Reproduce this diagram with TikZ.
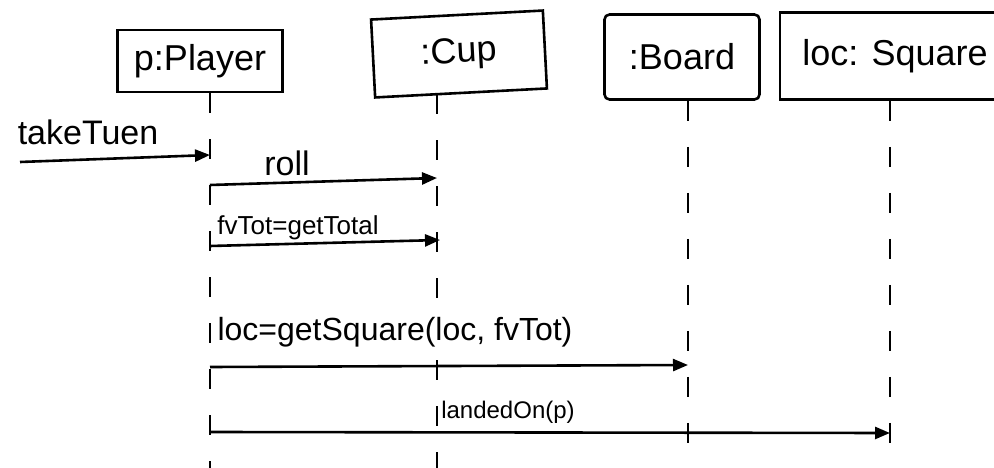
\documentclass[tikz,border=0pt]{standalone}
\usepackage{fontspec}
\setmainfont{Liberation Sans}
\usetikzlibrary{arrows.meta}
\begin{document}
\begin{tikzpicture}[x=1pt,y=-1pt,
  obj/.style={draw,line width=2.6pt,inner sep=0pt,font=\fontsize{36}{40}\selectfont},
  lifeline/.style={line width=2.4pt,dash pattern=on 20pt off 26pt},
  msg/.style={line width=2.6pt,-{Triangle[length=15pt,width=12pt]}},
  lbl/.style={inner sep=0pt,font=\fontsize{#1}{#1}\selectfont}]
\useasboundingbox (0,0) rectangle (994,468);
\clip (0,0) rectangle (994,468);
% objects
\node[obj,minimum width=165pt,minimum height=62pt] (player) at (200,61) {p:Player};
\node[obj,minimum width=172pt,minimum height=78pt,rotate=3] (cup) at (459,54) {:Cup};
\node[obj,minimum width=155pt,minimum height=85pt,rounded corners=5pt] (board) at (682,57) {:Board};
\node[obj,minimum width=230pt,minimum height=87pt] (square) at (895,56) {loc: Square};
% lifeline ends
\coordinate (pL) at (210,468);
\coordinate (cL) at (437,468);
\coordinate (cGapA) at (437,306);
\coordinate (cGapB) at (437,360);
\coordinate (bL) at (688,468);
\coordinate (sL) at (890,468);
\draw[lifeline] (player.south -| pL) -- (pL);
\draw[lifeline] (cup.south -| cL) -- (cGapA);
\draw[lifeline] (cGapB) -- (cL);
\draw[lifeline] (board.south -| bL) -- (bL);
\draw[lifeline] (square.south -| sL) -- (sL);
% message end points
\coordinate (m0s) at (20,162);
\coordinate (m0e) at (210,155);
\coordinate (m1s) at (210,185);
\coordinate (m1e) at (437,178);
\coordinate (m2s) at (210,246);
\coordinate (m2e) at (440,240);
\coordinate (m3s) at (210,367);
\coordinate (m3e) at (688,365);
\coordinate (m4s) at (210,432);
\coordinate (m4e) at (890,433);
\draw[msg] (m0s) -- (m0e);
\draw[msg] (m1s) -- (m1e);
\draw[msg] (m2s) -- (m2e);
\draw[msg] (m3s) -- (m3e);
\draw[msg] (m4s) -- (m4e);
% labels
\node[lbl=34] (l0) at (88,132) {takeTuen};
\node[lbl=34] (l1) at (287,163) {roll};
\node[lbl=26] (l2) at (298,228) {fvTot=getTotal};
\node[lbl=32] (l3) at (395,332) {loc=getSquare(loc, fvTot)};
\node[lbl=24] (l4) at (508,412) {landedOn(p)};
\end{tikzpicture}
\end{document}
